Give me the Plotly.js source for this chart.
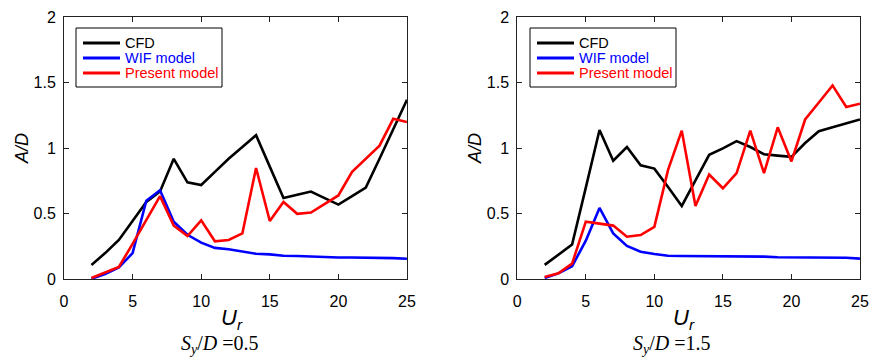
<!DOCTYPE html>
<html>
<head>
<meta charset="utf-8">
<script src="https://cdn.plot.ly/plotly-3.0.1.min.js"></script>
<style>html,body{margin:0;padding:0;background:#fff;}#chart{width:872px;height:361px;}</style>
</head>
<body>
<div id="chart"></div>
<script>
// Reduced velocity Ur
const ur = [2,3,4,5,6,7,8,9,10,11,12,13,14,15,16,17,18,19,20,21,22,23,24,25];

// Sy/D = 0.5
const cfdA     = [0.11,0.20,0.30,0.45,0.59,0.67,0.92,0.74,0.72,0.82,0.92,1.01,1.10,0.86,0.62,0.645,0.67,0.62,0.57,0.635,0.70,0.92,1.15,1.37];
const wifA     = [0.005,0.04,0.09,0.20,0.60,0.68,0.44,0.34,0.28,0.24,0.23,0.21,0.195,0.19,0.18,0.178,0.173,0.17,0.167,0.166,0.166,0.165,0.162,0.157];
const presentA = [0.01,0.05,0.095,0.27,0.45,0.635,0.41,0.33,0.45,0.29,0.30,0.35,0.85,0.445,0.59,0.50,0.51,0.575,0.64,0.82,0.92,1.02,1.225,1.20];

// Sy/D = 1.5
const cfdB     = [0.11,0.19,0.265,0.70,1.14,0.905,1.01,0.87,0.845,0.705,0.56,0.755,0.95,1.00,1.055,1.01,0.955,0.944,0.935,1.04,1.13,1.16,1.19,1.22];
const wifB     = [0.01,0.045,0.10,0.295,0.545,0.35,0.255,0.21,0.193,0.18,0.178,0.178,0.178,0.178,0.173,0.173,0.173,0.168,0.168,0.168,0.168,0.168,0.165,0.158];
const presentB = [0.018,0.046,0.12,0.44,0.425,0.41,0.325,0.338,0.40,0.835,1.135,0.56,0.80,0.695,0.81,1.135,0.81,1.16,0.90,1.22,1.35,1.48,1.315,1.34];

const names = ['CFD','WIF model','Present model'];
const colors = ['#000000','#0000ff','#ff0000'];
const xTicks = [0,5,10,15,20,25];
const yTicks = [0,0.5,1,1.5,2];
const yTickText = ['0','0.5','1','1.5','2'];
const captions = ['<i>S<sub>y</sub></i>/<i>D</i> =0.5','<i>S<sub>y</sub></i>/<i>D</i> =1.5'];

const W = 872, H = 361;
const px = v => v / W, py = v => 1 - v / H;

function mk(y, i, xa, ya){
  return {x: ur, y: y, xaxis: xa, yaxis: ya, type:'scatter', mode:'lines',
    name: names[i], line:{color:colors[i], width:2.6}, showlegend:false};
}
const data = [
  mk(cfdA,0,'x','y'), mk(wifA,1,'x','y'), mk(presentA,2,'x','y'),
  mk(cfdB,0,'x2','y2'), mk(wifB,1,'x2','y2'), mk(presentB,2,'x2','y2')
];

const sans = 'Liberation Sans, Arial, sans-serif';
const tickFont = {family:sans, size:16, color:'#000'};
function xax(dom){ return {domain:dom, range:[0,25], tickvals:xTicks, ticktext:xTicks.map(String),
  ticks:'inside', ticklen:5, tickcolor:'#222', showline:true, linecolor:'#222', linewidth:1, mirror:'ticks',
  showgrid:false, zeroline:false, tickfont:tickFont, ticklabelstandoff:7}; }
function yax(anchor){ return {domain:[0.2263,0.9521], range:[0,2], tickvals:yTicks, ticktext:yTickText, anchor:anchor,
  ticks:'inside', ticklen:5, tickcolor:'#222', showline:true, linecolor:'#222', linewidth:1, mirror:'ticks',
  showgrid:false, zeroline:false, tickfont:tickFont, ticklabelstandoff:4}; }

// manual legends (box + line samples + coloured labels)
const shapes = [], annotations = [];
[76, 530].forEach(left => {
  shapes.push({type:'rect', xref:'paper', yref:'paper', x0:px(left), x1:px(left+146), y0:py(87), y1:py(28),
    line:{color:'#000', width:1}, fillcolor:'#fff', layer:'above'});
  names.forEach((n, i) => {
    const yy = 43 + 15*i;
    shapes.push({type:'line', xref:'paper', yref:'paper', x0:px(left+7), x1:px(left+44), y0:py(yy), y1:py(yy),
      line:{color:colors[i], width:2.8}, layer:'above'});
    annotations.push({text:n, xref:'paper', yref:'paper', x:px(left+47), y:py(yy), xanchor:'left', yanchor:'middle',
      showarrow:false, font:{family:sans, size:14.5, color:colors[i]}});
  });
});

[[0.0252,0.266,0.2523,0],[0.5447,0.784,0.7706,1]].forEach(([ax, ux, cx, k]) => {
  annotations.push({text:'<i>A/D</i>', xref:'paper', yref:'paper', x:ax, y:0.59, xanchor:'center', yanchor:'middle',
    textangle:-90, showarrow:false, font:{family:sans, size:18, color:'#000'}});
  annotations.push({text:'<i>U</i><sub><i>r</i></sub>', xref:'paper', yref:'paper', x:ux, y:0.115, xanchor:'center', yanchor:'middle',
    showarrow:false, font:{family:sans, size:22, color:'#000'}});
  annotations.push({text:captions[k], xref:'paper', yref:'paper', x:cx, y:0.046, xanchor:'center', yanchor:'middle',
    showarrow:false, font:{family:'Liberation Serif, Times New Roman, serif', size:20, color:'#000'}});
});

const layout = {
  width:W, height:H, margin:{l:0,r:0,t:0,b:0}, paper_bgcolor:'#fff', plot_bgcolor:'#fff',
  showlegend:false,
  xaxis: Object.assign(xax([0.0734,0.4667]),{anchor:'y'}),
  yaxis: yax('x'),
  xaxis2: Object.assign(xax([0.5932,0.9862]),{anchor:'y2'}),
  yaxis2: yax('x2'),
  shapes: shapes,
  annotations: annotations
};
Plotly.newPlot('chart', data, layout, {staticPlot:true, displayModeBar:false});
</script>
</body>
</html>
